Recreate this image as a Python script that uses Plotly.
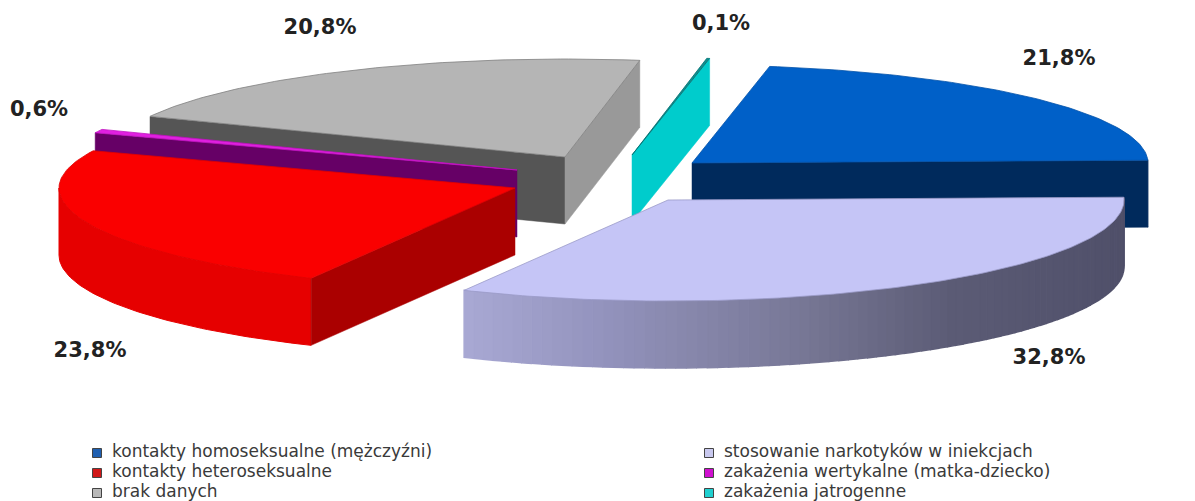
import numpy as np
import plotly.graph_objects as go

# --- data ---
categories = ["kontakty homoseksualne (mężczyźni)", "stosowanie narkotyków w iniekcjach",
              "kontakty heteroseksualne", "zakażenia wertykalne (matka-dziecko)",
              "brak danych", "zakażenia jatrogenne"]
values = [21.8, 32.8, 23.8, 0.6, 20.8, 0.1]

# --- styles ---
top_colors = ["#0060C8", "#C5C5F6", "#FA0000", "#E020E0", "#B5B5B5", "#108F90"]
edge_colors = ["#0050A8", "#9A9AC8", "#E00000", "#C010C0", "#808080", "#007070"]
rim_colors = ["#002A5C", None, "#E60000", "#660066", "#555555", "#00CCCC"]
start_wall = [None, None, "#AA0000", "#660066", "#555555", None]
end_wall = ["#002A5C", None, None, None, "#999999", "#00CCCC"]
legend_colors = ["#1F5FB0", "#C8C8EE", "#D01818", "#D010D0", "#B8B8B8", "#20D0D0"]
label_color = "#222222"
legend_color = "#3A3A3A"

# --- pie geometry: exploded-slice offsets around the pie centre, projected radii, extrusion ---
centre_x, centre_y = 630, 175
pull_x = [62, 38, -115, -113, -65, 2]
pull_y = [-12, 25, 13, -5, -18, -20]
radius_x, radius_back, radius_front, depth = 456, 98, 101, 67
first_angle = 9.8
draw_order = [4, 5, 0, 3, 2, 1]

label_x = [1059, 1049, 90, 39, 320, 721]
label_y = [60, 359, 352, 111, 29, 25]
legend_x = [97, 709]
legend_text_offset = 15
legend_y = [453, 473, 493]
legend_text_shift = 0

gradient_x = [465, 600, 800, 950, 1125]
gradient_rgb = [(169, 169, 212), (148, 148, 190), (120, 120, 150), (92, 92, 118), (80, 80, 106)]


def arc(i, a0, a1, n=None):
    n = n or max(2, int(abs(a1 - a0)) + 2)
    t = np.radians(np.linspace(a0, a1, n))
    c = np.cos(t)
    return (centre_x + pull_x[i] + radius_x * np.sin(t),
            centre_y + pull_y[i] - np.where(c > 0, radius_back, radius_front) * c)


def poly(fig, xs, ys, color, line=None, width=1):
    fig.add_trace(go.Scatter(x=list(xs), y=list(ys), mode="lines", fill="toself",
                             fillcolor=color, line=dict(color=line or color, width=width),
                             hoverinfo="skip", showlegend=False))


def wall(fig, i, ang, color):
    ax, ay = centre_x + pull_x[i], centre_y + pull_y[i]
    x, y = arc(i, ang, ang, 2)
    poly(fig, [ax, x[0], x[0], ax, ax], [ay, y[0], y[0] + depth, ay + depth, ay], color, width=0.5)


fractions = np.cumsum([0] + values) / sum(values) * 360 + first_angle
fig = go.Figure()

for i in draw_order:
    a0, a1 = fractions[i], fractions[i + 1]
    vis0, vis1 = max(a0, 88), min(a1, 270)
    if vis1 > vis0:
        if rim_colors[i] is None:
            # shaded outer wall, drawn as thin bands
            edges = np.linspace(vis0, vis1, 91)
            for e0, e1 in zip(edges[:-1], edges[1:]):
                x, y = arc(i, e0, e1, 3)
                xm = x.mean()
                rgb = [np.interp(xm, gradient_x, [c[k] for c in gradient_rgb]) for k in range(3)]
                col = "rgb(%d,%d,%d)" % tuple(rgb)
                poly(fig, np.r_[x, x[::-1]], np.r_[y, y[::-1] + depth], col, width=1.5)
        else:
            x, y = arc(i, vis0, vis1)
            poly(fig, np.r_[x, x[::-1]], np.r_[y, y[::-1] + depth], rim_colors[i])
    if start_wall[i]:
        wall(fig, i, a0, start_wall[i])
    if end_wall[i]:
        wall(fig, i, a1, end_wall[i])
    x, y = arc(i, a0, a1)
    ax, ay = centre_x + pull_x[i], centre_y + pull_y[i]
    poly(fig, np.r_[ax, x, ax], np.r_[ay, y, ay], top_colors[i], edge_colors[i], 0.8)

# percentage labels
fig.add_trace(go.Scatter(
    x=label_x, y=label_y, mode="text",
    text=[f"<b>{v:.1f}%</b>".replace(".", ",") for v in values],
    textposition="middle center",
    textfont=dict(family="DejaVu Sans", size=21, color=label_color),
    hoverinfo="skip", showlegend=False))

# legend grid (two columns, three rows)
for i, name in enumerate(categories):
    col, row = i % 2, i // 2
    fig.add_trace(go.Scatter(
        x=[legend_x[col]], y=[legend_y[row]], mode="markers", name=name,
        marker=dict(symbol="square", size=9, color=legend_colors[i],
                    line=dict(color="#444444", width=1)),
        cliponaxis=False, showlegend=False))
    fig.add_trace(go.Scatter(
        x=[legend_x[col] + legend_text_offset], y=[legend_y[row] + legend_text_shift], mode="text",
        text=[name], textposition="middle right",
        textfont=dict(family="DejaVu Sans", size=17, color=legend_color),
        cliponaxis=False, hoverinfo="skip", showlegend=False))

fig.update_layout(
    width=1195, height=501, margin=dict(l=0, r=0, t=0, b=0),
    paper_bgcolor="white", plot_bgcolor="white", showlegend=False,
    xaxis=dict(range=[0, 1195], visible=False, fixedrange=True),
    yaxis=dict(range=[501, 0], visible=False, fixedrange=True))

fig.write_html("out.html", config=dict(displayModeBar=False),
               post_script="document.body.style.margin='0';")
